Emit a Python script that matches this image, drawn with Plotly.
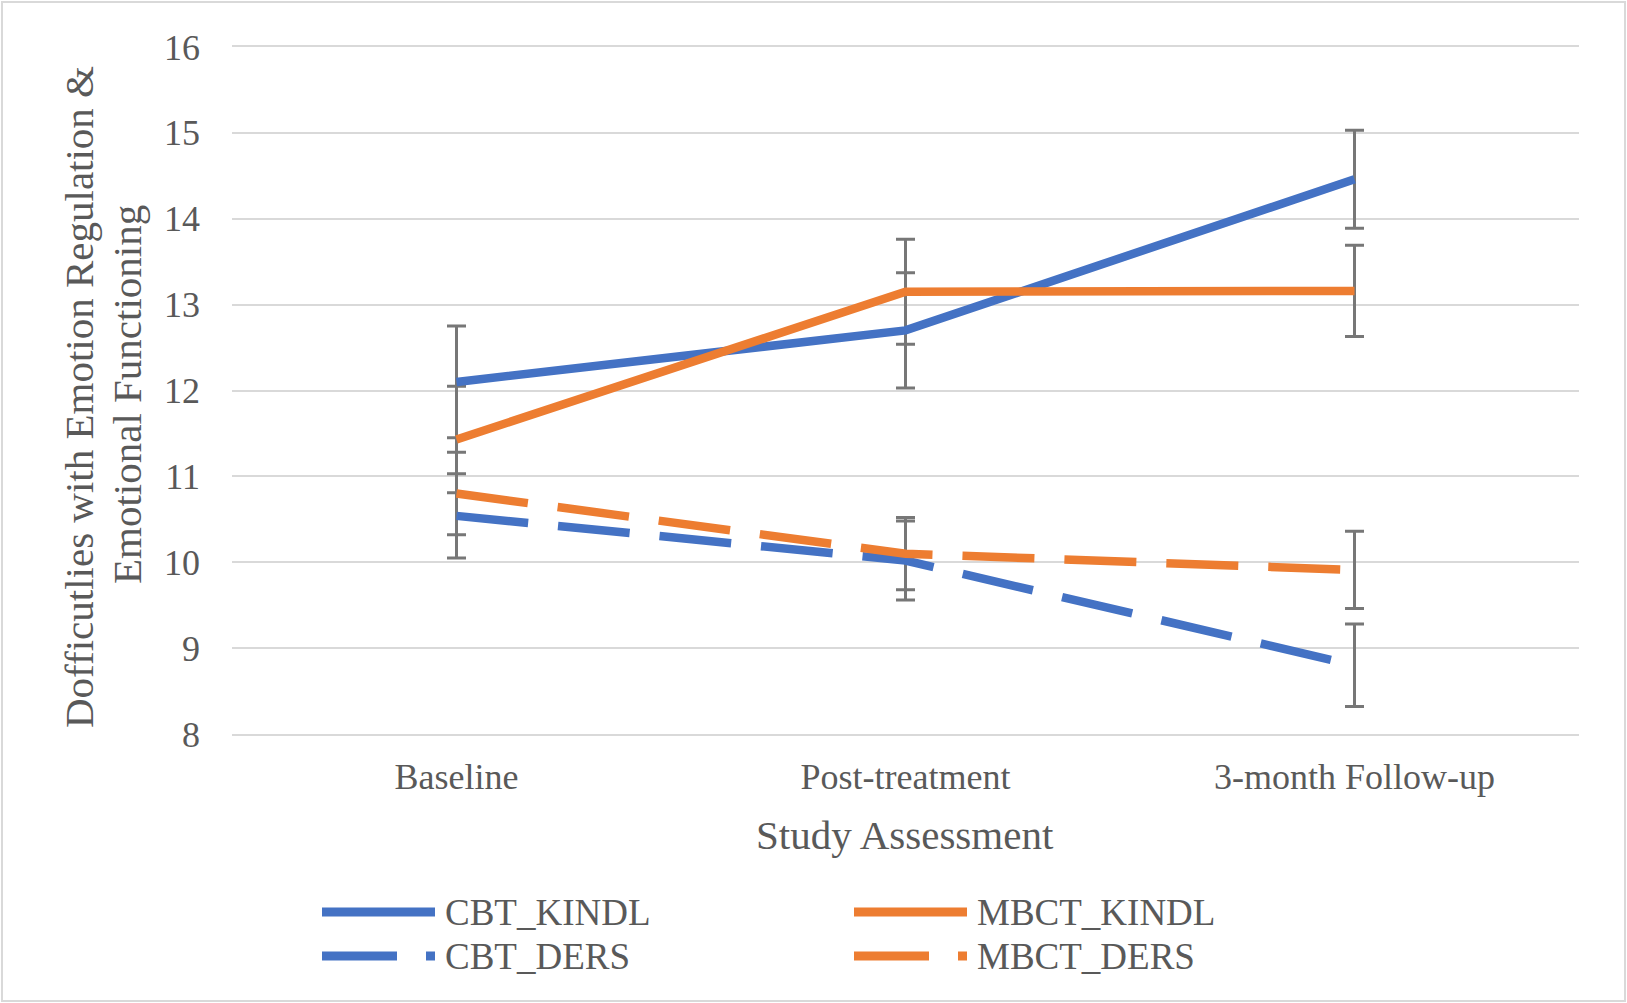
import plotly.graph_objects as go

categories = ["Baseline", "Post-treatment", "3-month Follow-up"]

cbt_kindl = [12.10, 12.70, 14.46]
cbt_kindl_err = [0.65, 0.67, 0.57]
mbct_kindl = [11.43, 13.15, 13.16]
mbct_kindl_err = [0.62, 0.61, 0.53]
cbt_ders = [10.54, 10.02, 8.80]
cbt_ders_err = [0.49, 0.46, 0.48]
mbct_ders = [10.80, 10.10, 9.91]
mbct_ders_err = [0.48, 0.42, 0.45]

y_ticks = [8, 9, 10, 11, 12, 13, 14, 15, 16]

BLUE = "#4472C4"
ORANGE = "#ED7D31"
TEXT = "#595959"
GRID = "#D9D9D9"
ERR = "#777777"
FONT = "Liberation Serif, Times New Roman, serif"

W, H = 1627, 1003
L, R, T, B = 232, 1579, 47, 734


def px(x):
    return (x - L) / (R - L)


def py(y):
    return (B - y) / (B - T)


series = [
    ("CBT_KINDL", cbt_kindl, cbt_kindl_err, BLUE, "solid"),
    ("MBCT_KINDL", mbct_kindl, mbct_kindl_err, ORANGE, "solid"),
    ("CBT_DERS", cbt_ders, cbt_ders_err, BLUE, "72px,30px"),
    ("MBCT_DERS", mbct_ders, mbct_ders_err, ORANGE, "72px,30px"),
]

fig = go.Figure()

# error bars first (drawn beneath lines)
for name, vals, errs, color, dash in series:
    fig.add_trace(go.Scatter(
        x=categories, y=vals, mode="markers",
        marker=dict(size=0.1, color="rgba(0,0,0,0)"),
        error_y=dict(type="data", array=errs, visible=True,
                     color=ERR, thickness=3, width=9.5),
        showlegend=False, hoverinfo="skip", name=name + " error",
    ))

for name, vals, errs, color, dash in series:
    fig.add_trace(go.Scatter(
        x=categories, y=vals, mode="lines", name=name,
        line=dict(color=color, width=8.5, dash=dash),
        showlegend=False,
    ))

shapes = []
annotations = []

# chart border
shapes.append(dict(type="rect", xref="paper", yref="paper",
                   x0=px(2), x1=px(1625), y0=py(1001), y1=py(2),
                   line=dict(color=GRID, width=2), layer="below"))

# custom legend
legend_items = [
    ("CBT_KINDL", BLUE, "solid", 322, 912),
    ("MBCT_KINDL", ORANGE, "solid", 854, 912),
    ("CBT_DERS", BLUE, "75px,29px", 322, 956),
    ("MBCT_DERS", ORANGE, "75px,29px", 854, 956),
]
for label, color, dash, x0, y0 in legend_items:
    shapes.append(dict(type="line", xref="paper", yref="paper",
                       x0=px(x0), x1=px(x0 + 113), y0=py(y0), y1=py(y0),
                       line=dict(color=color, width=9, dash=dash)))
    annotations.append(dict(xref="paper", yref="paper", x=px(x0 + 121), y=py(y0),
                            text=label, showarrow=False, xanchor="left", yanchor="middle",
                            font=dict(family=FONT, size=37, color=TEXT)))

# axis titles
annotations.append(dict(xref="paper", yref="paper", x=px(905), y=py(835),
                        text="Study Assessment", showarrow=False,
                        xanchor="center", yanchor="middle",
                        font=dict(family=FONT, size=41, color=TEXT)))
annotations.append(dict(xref="paper", yref="paper", x=px(79), y=py(397),
                        text="Dofficutlies with Emotion Regulation &", showarrow=False,
                        textangle=-90, xanchor="center", yanchor="middle",
                        font=dict(family=FONT, size=41, color=TEXT)))
annotations.append(dict(xref="paper", yref="paper", x=px(127), y=py(395),
                        text="Emotional Functioning", showarrow=False,
                        textangle=-90, xanchor="center", yanchor="middle",
                        font=dict(family=FONT, size=41, color=TEXT)))

fig.update_layout(
    width=W, height=H,
    margin=dict(l=L, r=W - R, t=T, b=H - B, pad=0),
    paper_bgcolor="white", plot_bgcolor="white",
    font=dict(family=FONT, color=TEXT),
    showlegend=False,
    shapes=shapes,
    annotations=annotations,
    xaxis=dict(
        type="category", range=[-0.5, 2.5],
        showgrid=False, zeroline=False,
        showline=True, linecolor=GRID, linewidth=2, mirror=True,
        ticks="", tickfont=dict(family=FONT, size=36, color=TEXT),
        ticklabelstandoff=10,
    ),
    yaxis=dict(
        range=[8, 16], tickvals=y_ticks, ticktext=[str(v) for v in y_ticks],
        showgrid=True, gridcolor=GRID, gridwidth=2,
        zeroline=False, showline=False, ticks="",
        tickfont=dict(family=FONT, size=36, color=TEXT),
        ticklabelstandoff=31,
    ),
)

fig.write_html(
    "out.html",
    config={"displayModeBar": False},
    post_script="document.body.style.margin='0';document.body.style.overflow='hidden';",
)
